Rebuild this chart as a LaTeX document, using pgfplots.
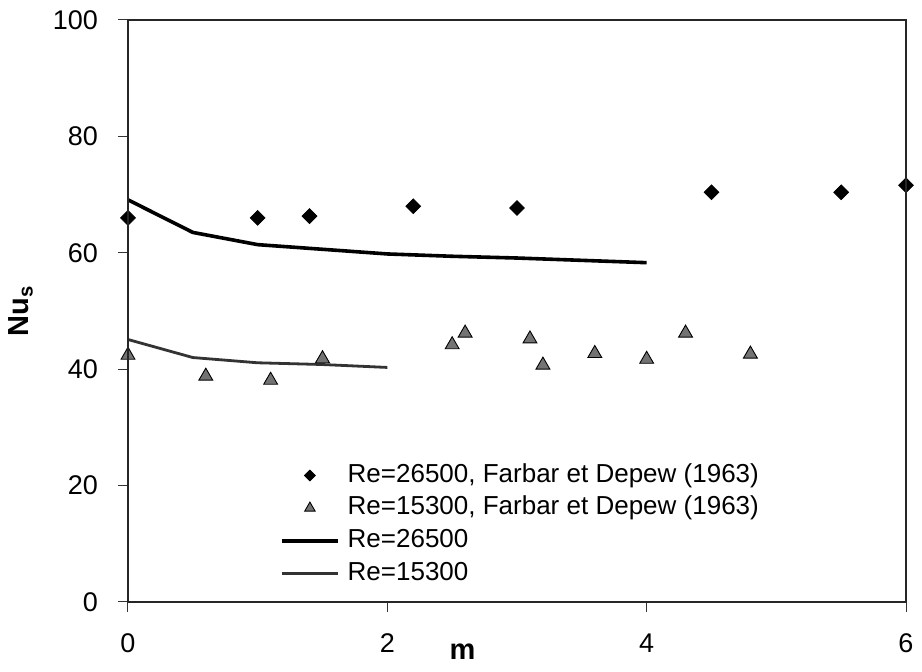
\documentclass[border=0pt]{standalone}
\usepackage{fontspec}
\setmainfont{Liberation Sans}
\usepackage{pgfplots}
\pgfplotsset{compat=1.18}
\pgfplotsset{
 markleg/.style={legend image code/.code={\draw[##1, mark size=#1] plot coordinates {(14pt,0pt)}; \path (0pt,0pt) (30pt,0pt);}},
 lineleg/.style={legend image code/.code={\draw[##1] (0pt,0pt) -- (28pt,0pt); \path (30pt,0pt);}},
}
\begin{document}
\begin{tikzpicture}[x=1pt,y=1pt]
\useasboundingbox (-64,-35) rectangle (397,301);
\begin{axis}[
 name=main,
 at={(0,0)}, anchor=south west,
 scale only axis, width=389pt, height=291pt,
 xmin=0,xmax=6,ymin=0,ymax=100,
 xtick={0,2,4,6}, ytick={0,20,...,100},
 tick pos=left, tick align=outside, major tick length=5pt,
 tick style={black!80, line width=0.5pt},
 axis line style={black!80, line width=0.9pt},
 /pgf/number format/assume math mode=true,
 tick label style={font=\fontsize{13.5}{15}\selectfont},
 xticklabel style={yshift=-7.5pt},
 yticklabel style={xshift=-6.5pt},
 xlabel={\textbf{m}}, ylabel={\textbf{Nu\textsubscript{s}}},
 label style={font=\fontsize{14.5}{16}\selectfont},
 xlabel style={at={(axis description cs:0.43,-0.085)}, anchor=center},
 ylabel style={at={(axis description cs:-0.138,0.5)}, anchor=center},
 legend style={draw=none, fill=none, at={(axis description cs:0.195,0.246)}, anchor=north west,
   font=\fontsize{13}{15}\selectfont, row sep=0pt, cells={anchor=west}, inner sep=0pt,
   nodes={text height=9.3pt, text depth=2.6pt, inner ysep=2.2pt}},
 clip=false,
]
\addplot[only marks, mark=square*, mark size=2.6pt, mark options={rotate=45, fill=black, draw=black}, markleg=1.9pt]
 coordinates {(0,66) (1,66) (1.4,66.3) (2.2,68) (3,67.7) (4.5,70.4) (5.5,70.4) (6,71.6)};
\addlegendentry{Re=26500, Farbar et Depew (1963)}
\addplot[only marks, mark=triangle*, mark size=4pt, mark options={fill=black!55, draw=black, line width=0.45pt}, markleg=3pt]
 coordinates {(0,42.4) (0.6,38.8) (1.1,38.1) (1.5,41.8) (2.5,44.2) (2.6,46.2) (3.1,45.2) (3.2,40.7) (3.6,42.7) (4,41.7) (4.3,46.2) (4.8,42.6)};
\addlegendentry{Re=15300, Farbar et Depew (1963)}
\addplot[black, line width=1.8pt, no marks, lineleg]
 coordinates {(0,69.1) (0.5,63.5) (1,61.4) (1.5,60.6) (2,59.8) (2.5,59.4) (3,59.1) (3.5,58.7) (4,58.3)};
\addlegendentry{Re=26500}
\addplot[black!80, line width=1.4pt, no marks, lineleg]
 coordinates {(0,45.1) (0.5,42) (1,41.1) (1.5,40.8) (2,40.3)};
\addlegendentry{Re=15300}
\end{axis}
\draw[black!85, line width=1pt] (main.south west) -- (main.north west) -- (main.north east) -- (main.south east) -- cycle;
\end{tikzpicture}
\end{document}
